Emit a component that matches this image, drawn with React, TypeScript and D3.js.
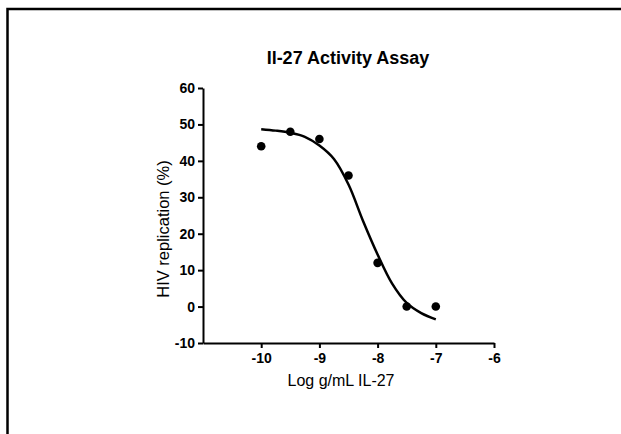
import * as d3 from "d3";
import React, { useEffect, useRef } from "react";

// measured points
const doseLog = [-10, -9.5, -9, -8.5, -8, -7.5, -7];
const replication = [44, 48, 46, 36, 12, 0, 0];

// fitted curve
const curveX = [-10, -9.75, -9.5, -9.25, -9, -8.75, -8.5, -8.25, -8, -7.75, -7.5, -7.25, -7];
const curveY = [48.7, 48.3, 47.7, 46.6, 44.2, 40.5, 33.5, 23.5, 14.3, 6.3, 1, -1.8, -3.5];

const xTicks = [-10, -9, -8, -7, -6];
const yTicks = [-10, 0, 10, 20, 30, 40, 50, 60];

const App: React.FC = () => {
  const ref = useRef<SVGSVGElement | null>(null);

  useEffect(() => {
    if (!ref.current) return;
    d3.select(ref.current).selectAll("*").remove();

    const width = 621;
    const height = 434;
    const font = "Liberation Sans, Arial, sans-serif";

    const svg = d3.select(ref.current).attr("width", width).attr("height", height);

    svg.append("rect").attr("width", width).attr("height", height).attr("fill", "white");

    // frame (top + left only visible)
    svg
      .append("path")
      .attr("d", `M7.5,${height} V9 H${width}`)
      .attr("fill", "none")
      .attr("stroke", "black")
      .attr("stroke-width", 2.5);

    const x = d3.scaleLinear().domain([-11, -6]).range([203, 494]);
    const y = d3.scaleLinear().domain([-10, 60]).range([343, 88]);

    const fmt = (d: d3.NumberValue) => String(d);

    // X axis
    const xAxis = svg
      .append("g")
      .attr("transform", `translate(0,${y(-10)})`)
      .call(
        d3.axisBottom(x).tickValues(xTicks).tickFormat(fmt).tickSize(5).tickPadding(5).tickSizeOuter(0)
      );

    // Y axis
    const yAxis = svg
      .append("g")
      .attr("transform", `translate(${x(-11)},0)`)
      .call(
        d3.axisLeft(y).tickValues(yTicks).tickFormat(fmt).tickSize(5).tickPadding(3).tickSizeOuter(0)
      );

    [xAxis, yAxis].forEach((g) => {
      g.select(".domain").attr("stroke", "black").attr("stroke-width", 2);
      g.selectAll(".tick line").attr("stroke", "black").attr("stroke-width", 2);
      g.selectAll(".tick text")
        .attr("fill", "black")
        .attr("font-family", font)
        .attr("font-weight", "bold")
        .attr("font-size", 14);
    });

    // fitted curve
    svg
      .append("path")
      .datum(curveX.map((v, i) => [v, curveY[i]] as [number, number]))
      .attr("fill", "none")
      .attr("stroke", "black")
      .attr("stroke-width", 2.5)
      .attr(
        "d",
        d3
          .line<[number, number]>()
          .x((d) => x(d[0]))
          .y((d) => y(d[1]))
          .curve(d3.curveCatmullRom)
      );

    // points
    svg
      .selectAll("circle.pt")
      .data(doseLog)
      .enter()
      .append("circle")
      .attr("class", "pt")
      .attr("cx", (d) => x(d))
      .attr("cy", (_, i) => y(replication[i]))
      .attr("r", 4.3)
      .attr("fill", "black");

    // titles
    svg
      .append("text")
      .attr("x", 348)
      .attr("y", 64)
      .attr("text-anchor", "middle")
      .attr("font-family", font)
      .attr("font-weight", "bold")
      .attr("font-size", 18)
      .text("Il-27 Activity Assay");

    svg
      .append("text")
      .attr("x", 341)
      .attr("y", 386)
      .attr("text-anchor", "middle")
      .attr("font-family", font)
      .attr("font-size", 16)
      .text("Log g/mL IL-27");

    svg
      .append("text")
      .attr("transform", `translate(169,229) rotate(-90)`)
      .attr("text-anchor", "middle")
      .attr("font-family", font)
      .attr("font-size", 16.5)
      .text("HIV replication (%)");
  }, []);

  return <svg ref={ref} style={{ position: "absolute", left: 0, top: 0 }}></svg>;
};

export default App;
